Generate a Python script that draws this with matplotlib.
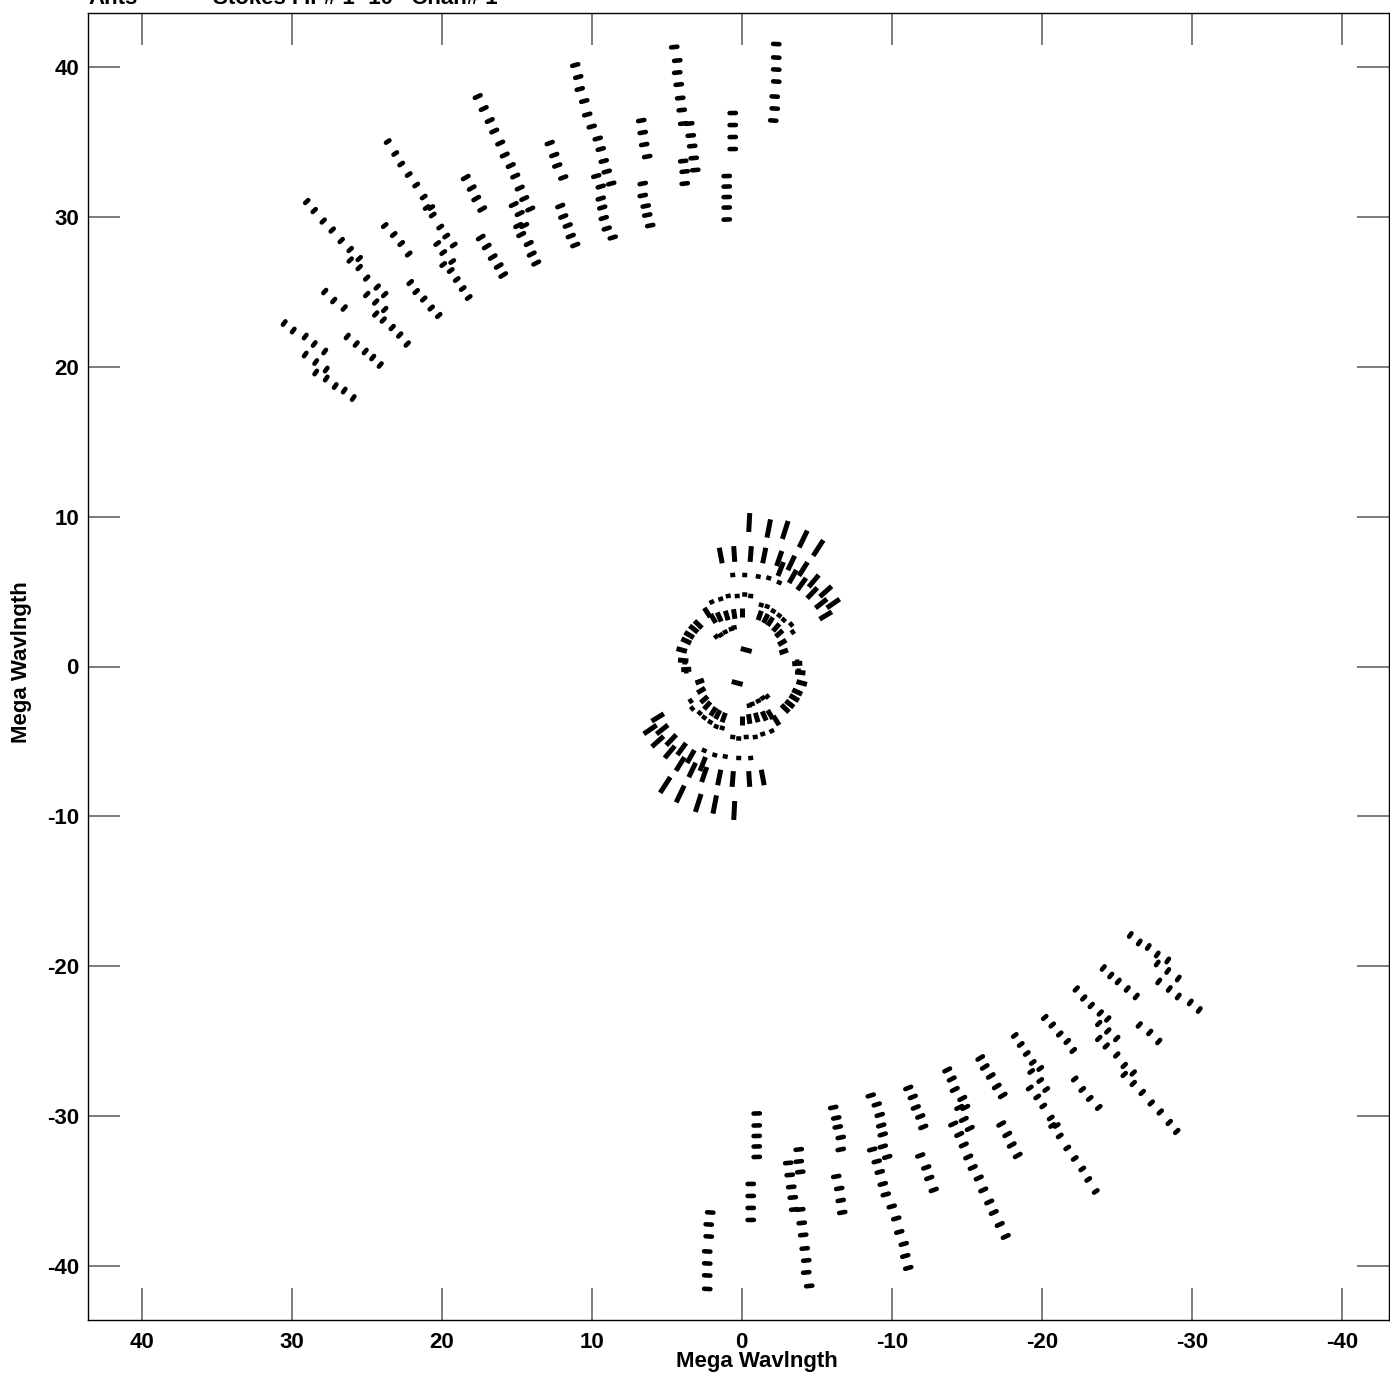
import numpy as np
import matplotlib.pyplot as plt
from matplotlib.collections import LineCollection

plt.rcParams["font.family"] = ["Liberation Sans", "DejaVu Sans"]
plt.rcParams["axes.unicode_minus"] = False

# uv points in mega wavelengths, one row per baseline track
north_u = [
    -2.3, -2.3, -2.3, -2.3, -2.2, -2.2, -2.1,
    0.6, 0.6, 0.6, 0.6,
    1.0, 1.0, 1.0, 1.0, 1.0,
    4.5, 4.3, 4.3, 4.2, 4.1, 4.0, 3.9,
    3.5, 3.4, 3.3, 3.2, 3.1,
    3.9, 3.8, 3.8,
    6.7, 6.6, 6.5, 6.3, 6.6, 6.6, 6.4, 6.3, 6.1,
    11.1, 10.9, 10.8, 10.5, 10.3, 10.0, 9.6, 9.4, 9.2, 9.0, 8.7, 9.7, 9.4, 9.4, 9.3, 9.2, 9.0, 8.6,
    12.8, 12.5, 12.3, 11.9, 12.1, 11.9, 11.6, 11.4, 11.1,
    17.6, 17.2, 16.8, 16.5, 16.1, 15.8, 15.4, 15.1, 14.8, 14.5, 14.1, 15.2, 14.8, 14.9, 14.5, 14.7, 14.2, 14.0, 13.7,
    18.4, 18.0, 17.7, 17.3, 17.4, 17.0, 16.6, 16.2, 15.9,
]
north_v = [
    41.5, 40.6, 39.8, 39.0, 38.0, 37.2, 36.4,
    36.9, 36.1, 35.3, 34.5,
    32.7, 32.0, 31.3, 30.6, 29.8,
    41.3, 40.4, 39.6, 38.8, 37.9, 37.1, 36.2,
    36.2, 35.4, 34.7, 33.9, 33.1,
    33.7, 33.0, 32.2,
    36.4, 35.6, 34.8, 34.0, 32.2, 31.4, 30.7, 30.1, 29.4,
    40.1, 39.3, 38.5, 37.7, 36.8, 36.0, 35.2, 34.5, 33.7, 33.0, 32.2, 32.7, 32.0, 31.2, 30.6, 29.9, 29.2, 28.6,
    34.9, 34.1, 33.4, 32.6, 30.7, 30.0, 29.4, 28.7, 28.1,
    38.0, 37.2, 36.4, 35.7, 34.9, 34.1, 33.4, 32.7, 31.9, 31.2, 30.5, 30.8, 30.2, 29.4, 29.4, 28.8, 28.2, 27.5, 26.9,
    32.6, 31.9, 31.2, 30.5, 28.6, 28.0, 27.3, 26.7, 26.1,
]

northwest_u = [
    23.6, 23.1, 22.7, 22.2, 21.7, 21.2, 21.0, 20.7, 20.6, 20.1, 19.7, 20.3, 19.2, 19.9, 19.3, 19.9, 19.4, 19.0, 18.6, 18.2,
    23.8, 23.2, 22.7, 22.2,
    22.1, 21.7, 21.2, 20.7, 20.2,
    29.0, 28.5, 27.9, 27.3, 26.7, 26.1, 26.1, 25.5, 25.5, 25.0, 24.3, 25.0, 23.8, 24.4, 23.8, 24.4, 23.9, 23.3, 22.8, 22.3,
    27.8, 27.2, 26.5,
    30.5, 29.9, 29.1, 28.5, 27.8, 29.1, 28.4, 27.7, 28.4, 27.7, 27.1, 26.5, 25.9,
    26.3, 25.7, 25.1, 24.6, 24.1,
]
northwest_v = [
    35.0, 34.2, 33.5, 32.8, 32.1, 31.3, 30.6, 30.6, 30.1, 29.3, 28.7, 28.2, 28.1, 27.6, 27.0, 26.8, 26.4, 25.8, 25.2, 24.6,
    29.4, 28.8, 28.2, 27.5,
    25.6, 25.0, 24.5, 23.9, 23.4,
    31.0, 30.4, 29.7, 29.1, 28.4, 27.8, 27.1, 27.2, 26.6, 25.9, 25.3, 24.8, 24.8, 24.3, 23.8, 23.5, 23.1, 22.6, 22.1, 21.5,
    25.0, 24.4, 23.9,
    22.9, 22.4, 22.0, 21.5, 21.0, 20.8, 20.3, 19.8, 19.6, 19.2, 18.7, 18.4, 17.9,
    22.0, 21.5, 21.0, 20.6, 20.1,
]

# conjugate visibilities (lower right of the plot)
south_u = [
    2.3, 2.3, 2.3, 2.3, 2.2, 2.2, 2.1,
    -0.6, -0.6, -0.6, -0.6,
    -1.0, -1.0, -1.0, -1.0, -1.0,
    -4.5, -4.3, -4.3, -4.2, -4.1, -4.0, -3.9,
    -3.5, -3.4, -3.3, -3.2, -3.1,
    -3.9, -3.8, -3.8,
    -6.7, -6.6, -6.5, -6.3, -6.6, -6.6, -6.4, -6.3, -6.1,
    -11.1, -10.9, -10.8, -10.5, -10.3, -10.0, -9.6, -9.4, -9.2, -9.0, -8.7, -9.7, -9.4, -9.4, -9.3, -9.2, -9.0, -8.6,
    -12.8, -12.5, -12.3, -11.9, -12.1, -11.9, -11.6, -11.4, -11.1,
    -17.6, -17.2, -16.8, -16.5, -16.1, -15.8, -15.4, -15.1, -14.8, -14.5, -14.1, -15.2, -14.8, -14.9, -14.5, -14.7, -14.2, -14.0, -13.7,
    -18.4, -18.0, -17.7, -17.3, -17.4, -17.0, -16.6, -16.2, -15.9,
]
south_v = [
    -41.5, -40.6, -39.8, -39.0, -38.0, -37.2, -36.4,
    -36.9, -36.1, -35.3, -34.5,
    -32.7, -32.0, -31.3, -30.6, -29.8,
    -41.3, -40.4, -39.6, -38.8, -37.9, -37.1, -36.2,
    -36.2, -35.4, -34.7, -33.9, -33.1,
    -33.7, -33.0, -32.2,
    -36.4, -35.6, -34.8, -34.0, -32.2, -31.4, -30.7, -30.1, -29.4,
    -40.1, -39.3, -38.5, -37.7, -36.8, -36.0, -35.2, -34.5, -33.7, -33.0, -32.2, -32.7, -32.0, -31.2, -30.6, -29.9, -29.2, -28.6,
    -34.9, -34.1, -33.4, -32.6, -30.7, -30.0, -29.4, -28.7, -28.1,
    -38.0, -37.2, -36.4, -35.7, -34.9, -34.1, -33.4, -32.7, -31.9, -31.2, -30.5, -30.8, -30.2, -29.4, -29.4, -28.8, -28.2, -27.5, -26.9,
    -32.6, -31.9, -31.2, -30.5, -28.6, -28.0, -27.3, -26.7, -26.1,
]

southeast_u = [
    -23.6, -23.1, -22.7, -22.2, -21.7, -21.2, -21.0, -20.7, -20.6, -20.1, -19.7, -20.3, -19.2, -19.9, -19.3, -19.9, -19.4, -19.0, -18.6, -18.2,
    -23.8, -23.2, -22.7, -22.2,
    -22.1, -21.7, -21.2, -20.7, -20.2,
    -29.0, -28.5, -27.9, -27.3, -26.7, -26.1, -26.1, -25.5, -25.5, -25.0, -24.3, -25.0, -23.8, -24.4, -23.8, -24.4, -23.9, -23.3, -22.8, -22.3,
    -27.8, -27.2, -26.5,
    -30.5, -29.9, -29.1, -28.5, -27.8, -29.1, -28.4, -27.7, -28.4, -27.7, -27.1, -26.5, -25.9,
    -26.3, -25.7, -25.1, -24.6, -24.1,
]
southeast_v = [
    -35.0, -34.2, -33.5, -32.8, -32.1, -31.3, -30.6, -30.6, -30.1, -29.3, -28.7, -28.2, -28.1, -27.6, -27.0, -26.8, -26.4, -25.8, -25.2, -24.6,
    -29.4, -28.8, -28.2, -27.5,
    -25.6, -25.0, -24.5, -23.9, -23.4,
    -31.0, -30.4, -29.7, -29.1, -28.4, -27.8, -27.1, -27.2, -26.6, -25.9, -25.3, -24.8, -24.8, -24.3, -23.8, -23.5, -23.1, -22.6, -22.1, -21.5,
    -25.0, -24.4, -23.9,
    -22.9, -22.4, -22.0, -21.5, -21.0, -20.8, -20.3, -19.8, -19.6, -19.2, -18.7, -18.4, -17.9,
    -22.0, -21.5, -21.0, -20.6, -20.1,
]

# short baselines: the IF channels pile up into radial streaks
streak_u = [
    -0.5, -1.8, -2.9, -4.1, -5.1,
    1.4, 0.5, -0.6, -1.5, -2.5, -3.3, -4.1, -4.8, -5.6, -6.1,
    -2.6, -3.4, -4.0, -4.7, -5.3, -5.6,
    2.3, 1.9, 1.5, 1.0, 0.5, 0.0, 2.9, 3.2, 3.5, 3.7, 4.0, 3.9, 3.7,
    -1.2, -1.6, -1.9, -2.3, -2.5, -2.7, -2.8,
    0.5, 1.8, 2.9, 4.1, 5.1,
    -1.4, -0.5, 0.6, 1.5, 2.5, 3.3, 4.1, 4.8, 5.6, 6.1,
    2.6, 3.4, 4.0, 4.7, 5.3, 5.6,
    -2.3, -1.9, -1.5, -1.0, -0.5, 0.0, -2.9, -3.2, -3.5, -3.7, -4.0, -3.9, -3.7,
    1.2, 1.6, 1.9, 2.3, 2.5, 2.7, 2.8,
]
streak_v = [
    9.6, 9.2, 9.1, 8.5, 7.9,
    7.4, 7.5, 7.5, 7.4, 7.2, 6.9, 6.5, 5.7, 5.0, 4.2,
    6.5, 6.0, 5.5, 4.9, 4.2, 3.4,
    3.6, 3.2, 3.3, 3.4, 3.5, 3.6, 2.8, 2.5, 2.1, 1.7, 1.1, 0.4, -0.2,
    3.4, 3.2, 3.0, 2.6, 2.2, 1.6, 1.0,
    -9.6, -9.2, -9.1, -8.5, -7.9,
    -7.4, -7.5, -7.5, -7.4, -7.2, -6.9, -6.5, -5.7, -5.0, -4.2,
    -6.5, -6.0, -5.5, -4.9, -4.2, -3.4,
    -3.6, -3.2, -3.3, -3.4, -3.5, -3.6, -2.8, -2.5, -2.1, -1.7, -1.1, -0.4, 0.2,
    -3.4, -3.2, -3.0, -2.6, -2.2, -1.6, -1.0,
]

# partly flagged samples, only a blob left
blob_u = [
    0.6, -0.2, -1.1, -1.8, -2.5,
    2.0, 1.4, 0.9, 0.3, -0.2, -0.6,
    1.7, 1.4, 1.1, 0.7, 0.5,
    -1.3, -1.7, -2.1, -2.5, -2.8, -3.3, -3.4,
    -3.7, -3.8,
    -0.6, 0.2, 1.1, 1.8, 2.5,
    -2.0, -1.4, -0.9, -0.3, 0.2, 0.6,
    -1.7, -1.4, -1.1, -0.7, -0.5,
    1.3, 1.7, 2.1, 2.5, 2.8, 3.3, 3.4,
    3.7, 3.8,
]
blob_v = [
    6.1, 6.1, 6.0, 5.9, 5.6,
    4.3, 4.5, 4.7, 4.7, 4.8, 4.7,
    2.0, 2.1, 2.3, 2.5, 2.6,
    4.1, 4.0, 3.7, 3.4, 3.1, 2.8, 2.3,
    0.3, -0.3,
    -6.1, -6.1, -6.0, -5.9, -5.6,
    -4.3, -4.5, -4.7, -4.7, -4.8, -4.7,
    -2.0, -2.1, -2.3, -2.5, -2.6,
    -4.1, -4.0, -3.7, -3.4, -3.1, -2.8, -2.3,
    -0.3, 0.3,
]

# shortest baseline, a track piece near the origin
core_u = [-0.3, 0.3]
core_v = [1.1, -1.1]

x_ticks = [40, 30, 20, 10, 0, -10, -20, -30, -40]
y_ticks = [40, 30, 20, 10, 0, -10, -20, -30, -40]


def tangent_dashes(u, v, length):
    # short piece of the uv track, drawn across the radius
    u = np.asarray(u, float)
    v = np.asarray(v, float)
    r = np.hypot(u, v)
    tu, tv = -v / r, u / r
    half = 0.5 * length
    p0 = np.column_stack([u - tu * half, v - tv * half])
    p1 = np.column_stack([u + tu * half, v + tv * half])
    return np.stack([p0, p1], axis=1)


def radial_streaks(u, v, scale, offset):
    u = np.asarray(u, float)
    v = np.asarray(v, float)
    r = np.hypot(u, v)
    ru, rv = u / r, v / r
    half = 0.5 * (scale * r + offset)
    p0 = np.column_stack([u - ru * half, v - rv * half])
    p1 = np.column_stack([u + ru * half, v + rv * half])
    return np.stack([p0, p1], axis=1)


fig = plt.figure(figsize=(13.9, 13.75), dpi=100)
ax = fig.add_axes([88 / 1390, 1 - 1320 / 1375, 1301 / 1390, 1307 / 1375])

outer = np.concatenate([
    tangent_dashes(north_u, north_v, 0.42),
    tangent_dashes(south_u, south_v, 0.42),
    tangent_dashes(northwest_u, northwest_v, 0.28),
    tangent_dashes(southeast_u, southeast_v, 0.28),
])
ax.add_collection(LineCollection(outer, colors="black", linewidths=3.3,
                                 capstyle="round"))

inner = np.concatenate([
    radial_streaks(streak_u, streak_v, 0.1, 0.3),
    radial_streaks(blob_u, blob_v, 0.0, 0.3),
    tangent_dashes(core_u, core_v, 0.75),
])
ax.add_collection(LineCollection(inner, colors="black", linewidths=3.6,
                                 capstyle="butt"))

ax.set_xlim(43.58, -43.15)
ax.set_ylim(-43.57, 43.57)

ax.set_xticks(x_ticks)
ax.set_yticks(y_ticks)
ax.set_xticklabels([str(t) for t in x_ticks], fontsize=16, fontweight="bold")
ax.set_yticklabels([str(t) for t in y_ticks], fontsize=16, fontweight="bold")
ax.tick_params(axis="both", which="major", direction="in", length=23,
               width=1.2, color="#666666", top=True, right=True)
ax.tick_params(axis="x", pad=9)
ax.tick_params(axis="y", pad=6.5)
for side in ax.spines.values():
    side.set_linewidth(1.0)
    side.set_color("black")

ax.set_xlabel("Mega Wavlngth", fontsize=16, fontweight="bold")
ax.set_ylabel("Mega Wavlngth", fontsize=16, fontweight="bold")
ax.xaxis.set_label_coords(0.514, -0.024)
ax.yaxis.set_label_coords(-0.043, 0.503)

# plot header sits mostly above the page edge, as in the original
fig.text(88 / 1390, 1 - 4.5 / 1375, "Ants", fontsize=16, fontweight="bold",
         ha="left", va="baseline")
fig.text(213 / 1390, 1 - 4.5 / 1375, "Stokes I IF# 1- 10   Chan# 1",
         fontsize=16, fontweight="bold", ha="left", va="baseline")

fig.savefig("out.png", dpi=100)
